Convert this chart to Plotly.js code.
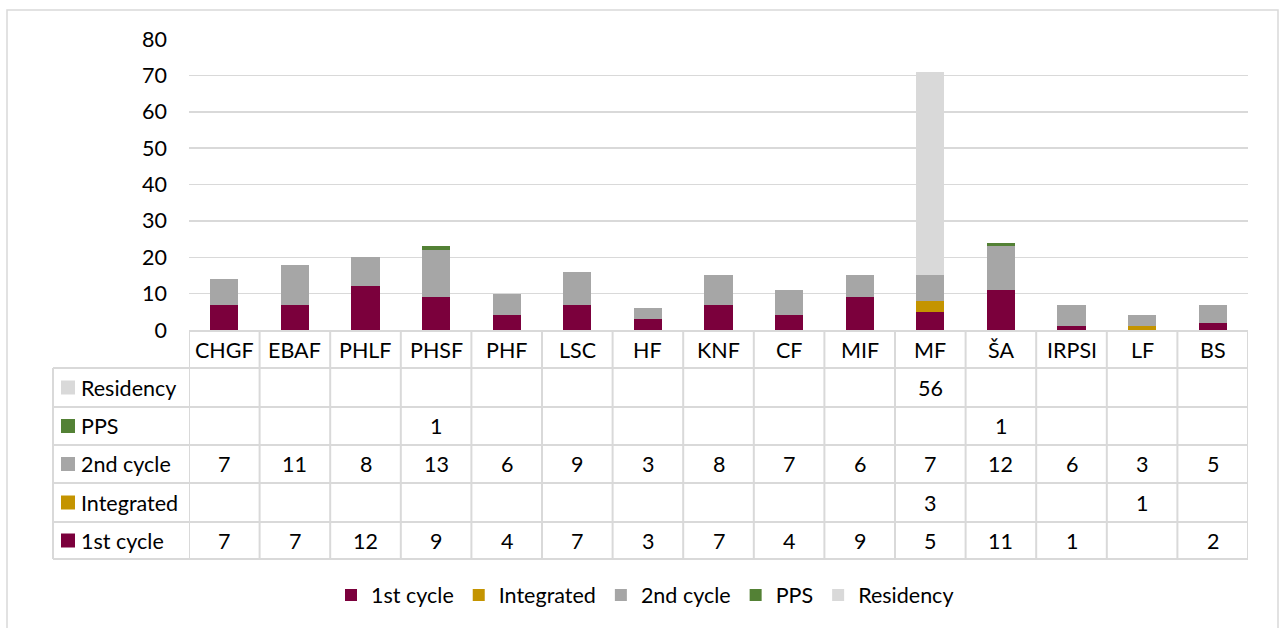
<!DOCTYPE html>
<html>
<head>
<meta charset="utf-8">
<script src="https://cdn.plot.ly/plotly-3.0.1.min.js"></script>
<style>html,body{margin:0;padding:0;background:#fff;}#chart{width:1286px;height:628px;}</style>
</head>
<body>
<div id="chart"></div>
<script>
// ---- data ----
const categories = ["CHGF","EBAF","PHLF","PHSF","PHF","LSC","HF","KNF","CF","MIF","MF","ŠA","IRPSI","LF","BS"];
const firstCycle = [7,7,12,9,4,7,3,7,4,9,5,11,1,null,2];
const integrated = [null,null,null,null,null,null,null,null,null,null,3,null,null,1,null];
const secondCycle = [7,11,8,13,6,9,3,8,7,6,7,12,6,3,5];
const pps = [null,null,null,1,null,null,null,null,null,null,null,1,null,null,null];
const residency = [null,null,null,null,null,null,null,null,null,null,56,null,null,null,null];
const seriesNames = ["1st cycle","Integrated","2nd cycle","PPS","Residency"];
const yTicks = [0,10,20,30,40,50,60,70,80];

// ---- styling ----
const colors = ["#7B003C","#C49400","#A6A6A6","#538135","#D9D9D9"];
const FONT = "Lato, 'Open Sans', sans-serif";
const FS = 21.5;
const W = 1286, H = 628;
const L = 189, R = 1248, T = 39, B = 330;
const pw = R - L, ph = B - T;
const px2x = p => (p - L) / pw;
const px2y = p => (B - p) / ph;
const gridCol = "#D9D9D9";

const seriesVals = [firstCycle, integrated, secondCycle, pps, residency];
const traces = seriesVals.map((v, i) => ({
  type: "bar",
  name: seriesNames[i],
  x: categories,
  y: v,
  marker: {color: colors[i], line: {width: 0}},
  hoverinfo: "x+y+name"
}));

const shapes = [];
const annotations = [];
const n = categories.length;

// outer border
shapes.push({type:"rect", xref:"paper", yref:"paper", x0:px2x(7), x1:px2x(1278), y0:px2y(660), y1:px2y(10),
  line:{color:gridCol, width:1.5}, fillcolor:"rgba(0,0,0,0)", layer:"below"});

// table geometry
const headerTop = 331, headerBot = 368;
const rowEdges = [368, 407, 445, 483, 522, 559];
const tableLeft = 53;
// row order top -> bottom
const rowSeries = [4, 3, 2, 1, 0];

const lineStyle = {color: gridCol, width: 2};
shapes.push({type:"line", xref:"x", yref:"paper", x0:-0.5, x1:n-0.5, y0:px2y(headerTop), y1:px2y(headerTop), line:lineStyle});
rowEdges.forEach(e => {
  shapes.push({type:"line", xref:"paper", yref:"paper", x0:px2x(tableLeft), x1:1, y0:px2y(e), y1:px2y(e), line:lineStyle});
});
for (let i = 0; i <= n; i++) {
  shapes.push({type:"line", xref:"x", yref:"paper", x0:i-0.5, x1:i-0.5, y0:px2y(headerTop), y1:px2y(rowEdges[rowEdges.length-1]), line:lineStyle});
}
shapes.push({type:"line", xref:"paper", yref:"paper", x0:px2x(tableLeft), x1:px2x(tableLeft), y0:px2y(rowEdges[0]), y1:px2y(rowEdges[rowEdges.length-1]), line:lineStyle});

// category labels
categories.forEach((c, i) => {
  annotations.push({xref:"x", yref:"paper", x:i, y:px2y((headerTop+headerBot)/2), text:c, showarrow:false,
    font:{family:FONT, size:FS, color:"#000"}, xanchor:"center", yanchor:"middle"});
});

// rows
rowSeries.forEach((s, r) => {
  const top = rowEdges[r], bot = rowEdges[r+1];
  const cy = (top + bot) / 2;
  shapes.push({type:"rect", xref:"paper", yref:"paper", x0:px2x(61), x1:px2x(75), y0:px2y(cy+7), y1:px2y(cy-7),
    fillcolor:colors[s], line:{width:0}});
  annotations.push({xref:"paper", yref:"paper", x:px2x(79), y:px2y(cy), text:seriesNames[s], showarrow:false,
    font:{family:FONT, size:FS, color:"#000"}, xanchor:"left", yanchor:"middle"});
  seriesVals[s].forEach((v, i) => {
    if (v !== null && v !== undefined) {
      annotations.push({xref:"x", yref:"paper", x:i, y:px2y(cy), text:String(v), showarrow:false,
        font:{family:FONT, size:FS, color:"#000"}, xanchor:"center", yanchor:"middle"});
    }
  });
});

const layout = {
  width: W, height: H,
  margin: {l: L, r: W - R, t: T, b: H - B, pad: 0},
  paper_bgcolor: "#fff", plot_bgcolor: "#fff",
  barmode: "stack",
  bargap: 0.6,
  font: {family: FONT, size: FS, color: "#000"},
  xaxis: {type:"category", showticklabels:false, showgrid:false, zeroline:false, showline:false, ticks:"", range:[-0.5, n-0.5], fixedrange:true},
  yaxis: {range:[0,80], tickvals:yTicks, showgrid:true, gridcolor:gridCol, gridwidth:1.5, zeroline:false, showline:false,
    ticks:"", ticklabelstandoff:21, tickfont:{family:FONT, size:FS, color:"#000"}, fixedrange:true},
  showlegend: true,
  legend: {orientation:"h", xref:"paper", yref:"paper", x:px2x(645), xanchor:"center", y:px2y(595), yanchor:"middle",
    font:{family:FONT, size:FS, color:"#000"}, itemwidth:30, traceorder:"normal", tracegroupgap:0, itemclick:false},
  shapes: shapes,
  annotations: annotations
};

Plotly.newPlot("chart", traces, layout, {displayModeBar:false, staticPlot:true});
</script>
</body>
</html>
